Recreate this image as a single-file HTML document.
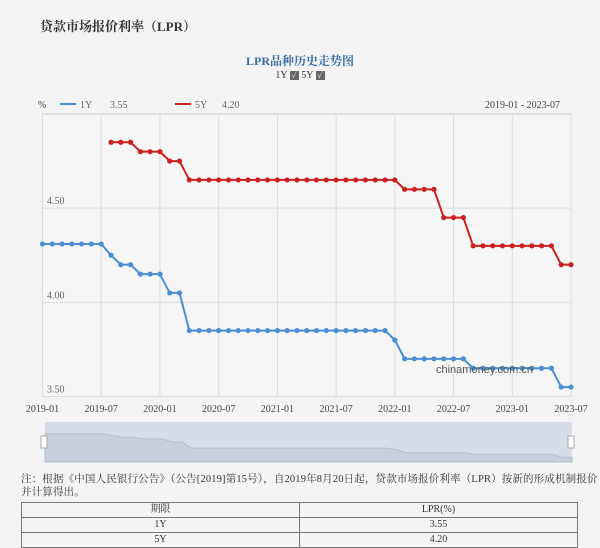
<!DOCTYPE html>
<html><head><meta charset="utf-8"><style>
body{margin:0;width:600px;height:548px;background:#f4f4f4;font-family:"Liberation Serif","Noto Serif CJK SC",serif;overflow:hidden;position:relative}
.a{position:absolute;white-space:nowrap}
table{border-collapse:collapse;position:absolute;left:21px;top:502px;width:557px;font-size:10px;color:#333;table-layout:fixed}
td{border:1px solid #777;text-align:center;height:14px;padding:0;line-height:14px;width:50%}
</style></head><body>
<div class="a" style="left:40px;top:16px;font-size:13px;color:#333;font-weight:bold">贷款市场报价利率（LPR）</div>
<div class="a" style="left:0;width:600px;text-align:center;top:52px;font-size:12px;color:#3a6ea5;font-weight:bold">LPR品种历史走势图</div>
<div class="a" style="left:0;width:600px;text-align:center;top:70px;font-size:10px;color:#333">1Y <span style="display:inline-block;width:9px;height:9px;background:#666;color:#fff;font-size:8px;line-height:9px">✓</span> 5Y <span style="display:inline-block;width:9px;height:9px;background:#666;color:#fff;font-size:8px;line-height:9px">✓</span></div>
<svg id="c" width="600" height="548" style="position:absolute;left:0;top:0"></svg>
<div class="a" style="left:21px;top:473px;font-size:10.5px;color:#333;line-height:13px;letter-spacing:0.15px">注：根据《中国人民银行公告》（公告[2019]第15号），自2019年8月20日起，贷款市场报价利率（LPR）按新的形成机制报价<br>并计算得出。</div>
<table>
<tr><td>期限</td><td>LPR(%)</td></tr>
<tr><td>1Y</td><td>3.55</td></tr>
<tr><td>5Y</td><td>4.20</td></tr>
</table>
<script>
const xLabels=["2019-01","2019-07","2020-01","2020-07","2021-01","2021-07","2022-01","2022-07","2023-01","2023-07"];
const yTicks=[3.5,4.0,4.5];
const y1=[4.31,4.31,4.31,4.31,4.31,4.31,4.31,4.25,4.20,4.20,4.15,4.15,4.15,4.05,4.05,3.85,3.85,3.85,3.85,3.85,3.85,3.85,3.85,3.85,3.85,3.85,3.85,3.85,3.85,3.85,3.85,3.85,3.85,3.85,3.85,3.85,3.80,3.70,3.70,3.70,3.70,3.70,3.70,3.70,3.65,3.65,3.65,3.65,3.65,3.65,3.65,3.65,3.65,3.55,3.55];
const y5=[null,null,null,null,null,null,null,4.85,4.85,4.85,4.80,4.80,4.80,4.75,4.75,4.65,4.65,4.65,4.65,4.65,4.65,4.65,4.65,4.65,4.65,4.65,4.65,4.65,4.65,4.65,4.65,4.65,4.65,4.65,4.65,4.65,4.65,4.60,4.60,4.60,4.60,4.45,4.45,4.45,4.30,4.30,4.30,4.30,4.30,4.30,4.30,4.30,4.30,4.20,4.20];
const L=42.5,R=571,T=114,B=396.5,yMin=3.5,yMax=5.0;
const X=i=>L+(R-L)*i/54, Y=v=>B-(v-yMin)/(yMax-yMin)*(B-T);
const s=document.getElementById('c');const NS='http://www.w3.org/2000/svg';
function el(t,a,p){const e=document.createElementNS(NS,t);for(const k in a)e.setAttribute(k,a[k]);(p||s).appendChild(e);return e;}
let r=el('rect',{x:L,y:T,width:R-L,height:B-T,fill:'#f6f6f6',stroke:'#ccc'});

xLabels.forEach((l,i)=>{const x=X(i*6);
 const g=el('line',{x1:x,x2:x,y1:T,y2:B,stroke:'#ddd'});
 const t=el('text',{x:x,y:412,'text-anchor':'middle','font-size':10,fill:'#444'});t.textContent=l;});
yTicks.forEach(v=>{const y=Y(v);
 const g=el('line',{x1:L,x2:R,y1:y,y2:y,stroke:'#ddd'});
 const t=el('text',{x:47,y:y-4,'font-size':10,fill:'#666'});t.textContent=v.toFixed(2);});
function series(d,c,n){let p='';d.forEach((v,i)=>{if(v==null)return;p+=(p?'L':'M')+X(i)+','+Y(v);});
 const pl=el('path',{d:p,fill:'none',stroke:c,'stroke-width':2});
 d.forEach((v,i)=>{if(v==null)return;const ci=el('circle',{cx:X(i),cy:Y(v),r:2.6,fill:c});});}
series(y1,'#4a8fd6','1y');series(y5,'#cc1f1f','5y');
const wm=el('text',{x:436,y:373,'font-size':11,fill:'#555','font-family':'Liberation Sans'});wm.textContent='chinamoney.com.cn';
const lg=[['%',38,'#444'],['1Y',80,'#666'],['3.55',110,'#666'],['5Y',195,'#666'],['4.20',222,'#666'],['2019-01 - 2023-07',485,'#444']];
lg.forEach(a=>{const t=el('text',{x:a[1],y:108,'font-size':10,fill:a[2]});t.textContent=a[0];});
let ll=el('line',{x1:60,x2:76,y1:104,y2:104,stroke:'#4a8fd6','stroke-width':2});
ll=el('line',{x1:175,x2:191,y1:104,y2:104,stroke:'#cc1f1f','stroke-width':2});
const sl=el('rect',{x:45,y:422,width:527,height:40,fill:'#d6dde6'});
const SL=45,SR=572,ST=428,SB=462,sx=i=>SL+(SR-SL)*i/54,sy=v=>SB-(v-3.4)/(4.5-3.4)*(SB-ST);
let ap='M'+SL+','+SB;y1.forEach((v,i)=>ap+='L'+sx(i)+','+sy(v));ap+='L'+SR+','+SB+'Z';
const ar=el('path',{d:ap,fill:'#c8d0db',stroke:'#b5bfcc'});
[41,568].forEach(x=>{const h=el('rect',{x:x,y:436,width:6,height:12,fill:'#fff',stroke:'#aaa'});});
</script>
</body></html>
